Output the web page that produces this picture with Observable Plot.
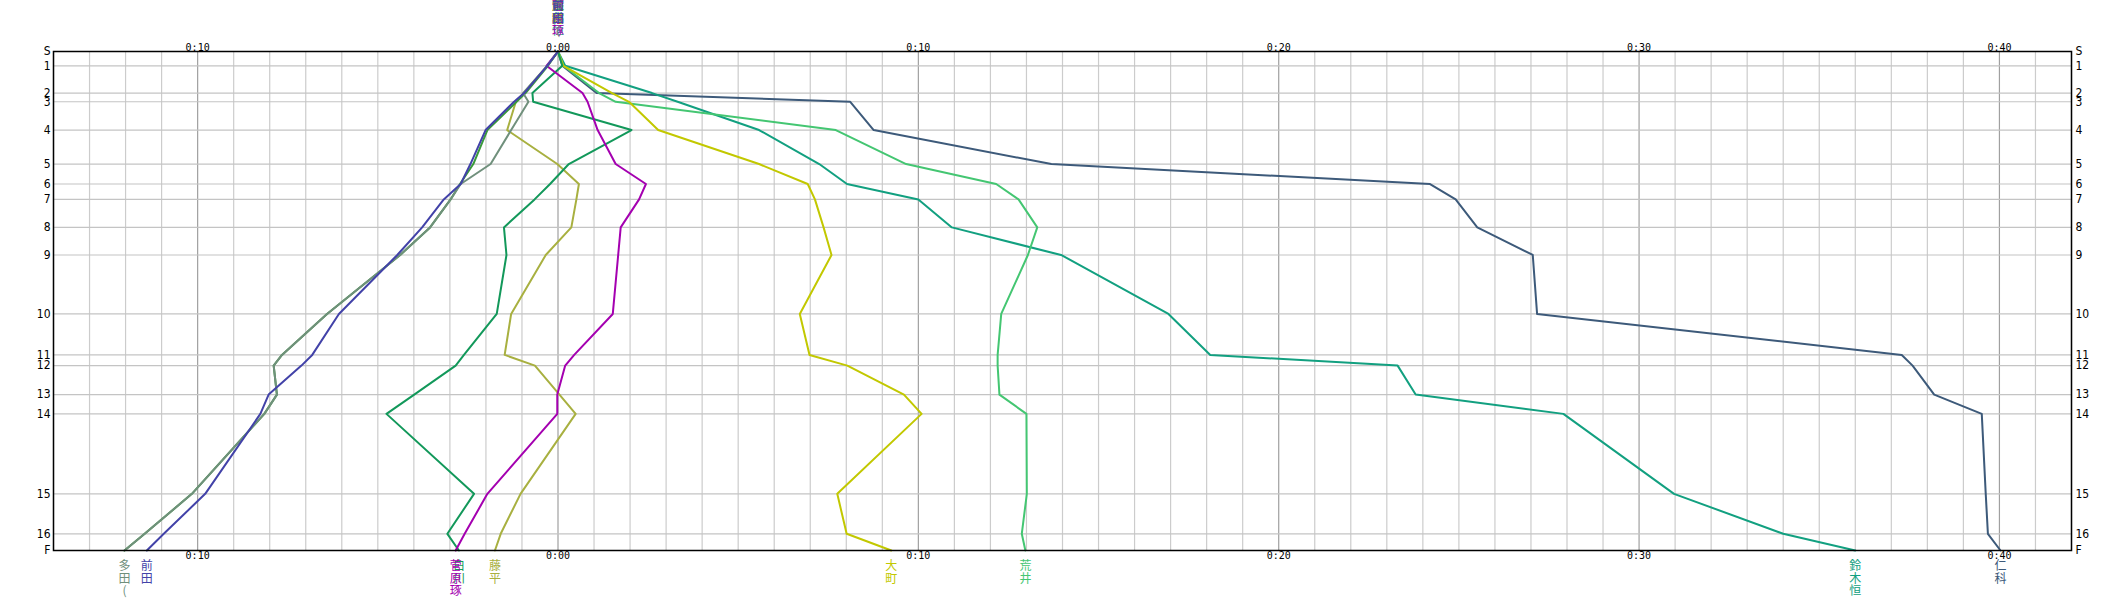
<!DOCTYPE html>
<html>
<head>
<meta charset="utf-8">
<script src="https://cdn.jsdelivr.net/npm/d3@7"></script>
<script src="https://cdn.jsdelivr.net/npm/@observablehq/plot@0.6"></script>
<style>
  html, body { margin: 0; padding: 0; background: #fff; }
  svg { display: block; }
</style>
</head>
<body>
<div id="chart"></div>
<script>
// Stations (checkpoints) and their cumulative distance
const stations = ["S","1","2","3","4","5","6","7","8","9","10","11","12","13","14","15","16","F"];
const stationDist = [0, 14.3, 41.6, 50.3, 78.6, 112.6, 132.6, 148, 176, 203.6, 262.6, 303.6, 314.3, 343.3, 362.6, 442.6, 482.6, 499.3];

// Time difference (minutes) at each station, per competitor
const names = ["仁科", "鈴木恒", "荒井", "大町", "藤平", "白川", "菅原琢", "", "多田(", "前田"];
const colors = ["#3d5a7a", "#12a080", "#44c672", "#c2c800", "#a8b040", "#12985a", "#a400b0", "#3a9a3a", "#70907c", "#4242a8"];
const s仁科 = [0, 0.12, 1.07, 8.11, 8.76, 13.69, 24.2, 24.91, 25.51, 27.05, 27.17, 37.29, 37.59, 38.19, 39.51, 39.62, 39.68, 40.03];
const s鈴木恒 = [0, 0.2, 2.61, 3.32, 5.58, 7.25, 8.02, 10.0, 10.93, 13.96, 16.94, 18.1, 23.3, 23.8, 27.9, 30.97, 34.0, 36.0];
const s荒井 = [0, 0.15, 1.14, 1.6, 7.71, 9.66, 12.16, 12.78, 13.3, 13.04, 12.3, 12.2, 12.2, 12.25, 13.0, 13.01, 12.87, 12.97];
const s大町 = [0, 0.15, 1.5, 1.97, 2.78, 5.58, 6.93, 7.13, 7.37, 7.59, 6.71, 6.98, 8.03, 9.6, 10.09, 7.75, 8.01, 9.25];
const s藤平 = [0, -0.3, -0.95, -1.17, -1.41, -0.02, 0.58, 0.51, 0.37, -0.34, -1.3, -1.48, -0.64, 0.04, 0.49, -1.04, -1.59, -1.75];
const s白川 = [0, 0.12, -0.71, -0.69, 2.04, 0.3, -0.22, -0.65, -1.5, -1.43, -1.7, -2.61, -2.84, -3.99, -4.76, -2.33, -3.07, -2.75];
const s菅原琢 = [0, -0.32, 0.68, 0.82, 1.1, 1.6, 2.44, 2.25, 1.74, 1.67, 1.52, 0.45, 0.2, -0.02, -0.02, -1.96, -2.59, -2.84];
const sExtra = [0, -0.28, -0.9, -1.15, -1.96, -2.35, -2.72, -2.98, -3.55, -4.38, -6.41, -7.66, -7.89, -7.8, -8.15, -10.16, -11.47, -12.03];
const s多田 = [0, -0.3, -0.97, -0.82, -1.3, -1.87, -2.7, -2.98, -3.55, -4.38, -6.41, -7.66, -7.89, -7.8, -8.15, -10.16, -11.47, -12.03];
const s前田 = [0, -0.3, -0.94, -1.22, -2.01, -2.43, -2.7, -3.17, -3.77, -4.46, -6.08, -6.82, -7.12, -8.03, -8.26, -9.79, -10.94, -11.41];
const seriesValues = [s仁科, s鈴木恒, s荒井, s大町, s藤平, s白川, s菅原琢, sExtra, s多田, s前田];

const xTicks = [-10, 0, 10, 20, 30, 40];
const xDomain = [-14, 42];

// Build long-format table
const rows = [];
seriesValues.forEach((vals, i) => {
  vals.forEach((v, j) => rows.push({id: i, name: names[i], color: colors[i], station: stations[j], dist: stationDist[j], t: v}));
});
const starts = seriesValues.map((vals, i) => ({name: names[i], color: colors[i], t: vals[0]})).filter(d => d.name);
const ends = seriesValues.map((vals, i) => ({name: names[i], color: colors[i], t: vals[vals.length - 1]})).filter(d => d.name);

const fmt = d => { const a = Math.abs(d); return `${Math.floor(a / 60)}:${String(a % 60).padStart(2, "0")}`; };
const minutes = d3.range(xDomain[0], xDomain[1] + 1);
const vert = s => s.split("").join("\n");

const chart = Plot.plot({
  width: 2123,
  height: 600,
  marginLeft: 53,
  marginRight: 52,
  marginTop: 51,
  marginBottom: 50,
  style: {fontFamily: "'Liberation Sans Narrow', 'DejaVu Sans Condensed', sans-serif", fontSize: "12px", background: "#fff", color: "#000", overflow: "visible"},
  x: {domain: xDomain, label: null},
  y: {domain: [0, stationDist[stationDist.length - 1]], reverse: true, label: null},
  marks: [
    Plot.ruleX(minutes.filter(m => m % 10 !== 0), {stroke: "#cccccc", strokeWidth: 1.2}),
    Plot.ruleX(minutes.filter(m => m % 10 === 0), {stroke: "#a0a0a0", strokeWidth: 1.2}),
    Plot.ruleY(stationDist, {stroke: "#c4c4c4", strokeWidth: 1.2}),
    Plot.line(rows, {x: "t", y: "dist", z: "id", stroke: "color", strokeWidth: 2}),
    Plot.frame({stroke: "#000", strokeWidth: 1.5}),
    Plot.axisX(xTicks, {anchor: "top", label: null, tickSize: 0, tickPadding: 1, tickFormat: fmt, fontFamily: "'DejaVu Sans Mono', monospace", fontSize: 10}),
    Plot.axisX(xTicks, {anchor: "bottom", label: null, tickSize: 0, tickPadding: 1, tickFormat: fmt, fontFamily: "'DejaVu Sans Mono', monospace", fontSize: 10}),
    Plot.axisY(stationDist, {anchor: "left", label: null, tickSize: 0, tickPadding: 3, tickFormat: (d, i) => stations[i], fontSize: 12}),
    Plot.axisY(stationDist, {anchor: "right", label: null, tickSize: 0, tickPadding: 4, tickFormat: (d, i) => stations[i], fontSize: 12}),
    Plot.text(starts, {x: "t", frameAnchor: "top", dy: -50, text: d => vert(d.name), fill: "color", lineAnchor: "top", lineHeight: 1.04, fontSize: 12, fontFamily: "'Noto Sans CJK JP', sans-serif"}),
    Plot.text(ends, {x: "t", frameAnchor: "bottom", dy: 11, text: d => vert(d.name), fill: "color", lineAnchor: "top", lineHeight: 1.04, fontSize: 12, fontFamily: "'Noto Sans CJK JP', sans-serif"})
  ]
});
document.getElementById("chart").append(chart);
</script>
</body>
</html>
